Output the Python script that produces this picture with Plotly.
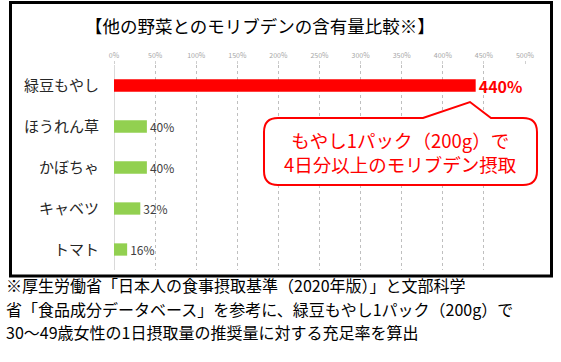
import plotly.graph_objects as go

# ---- data ----
categories = ["緑豆もやし", "ほうれん草", "かぼちゃ", "キャベツ", "トマト"]
values = [440, 40, 40, 32, 16]
bar_colors = ["#FF0000", "#92D050", "#92D050", "#92D050", "#92D050"]
x_ticks = [0, 50, 100, 150, 200, 250, 300, 350, 400, 450, 500]
x_tick_labels = [f"{t}%" for t in x_ticks]

title_text = "【他の野菜とのモリブデンの含有量比較※】"
callout_lines = ["もやし1パック（200g）で", "4日分以上のモリブデン摂取"]
footnote_lines = [
    "※厚生労働省「日本人の食事摂取基準（2020年版）」と文部科学",
    "省「食品成分データベース」を参考に、緑豆もやし1パック（200g）で",
    "30～49歳女性の1日摂取量の推奨量に対する充足率を算出",
]

FONT = "Noto Sans CJK JP"
W, H = 561, 362
PL, PR, PT, PB = 114, 525, 65, 270  # plot area in pixels


def px(x):
    return (x - PL) / (PR - PL)


def py(y):
    return (PB - y) / (PB - PT)


labels = []
label_colors = []
label_sizes = []
for i, v in enumerate(values):
    if i == 0:
        labels.append(f"<b>{v}%</b>")
        label_colors.append("#FF0000")
        label_sizes.append(16)
    else:
        labels.append(f"{v}%")
        label_colors.append("#404040")
        label_sizes.append(12)

fig = go.Figure(
    go.Bar(
        x=values,
        y=categories,
        orientation="h",
        marker=dict(color=bar_colors, line=dict(width=0)),
        text=labels,
        textposition="outside",
        constraintext="none",
        textfont=dict(color=label_colors, size=label_sizes, family=FONT),
        cliponaxis=False,
        hoverinfo="skip",
    )
)

fig.update_layout(
    width=W,
    height=H,
    margin=dict(l=PL, r=W - PR, t=PT, b=H - PB),
    paper_bgcolor="white",
    plot_bgcolor="white",
    bargap=0.70,
    showlegend=False,
    font=dict(family=FONT),
    xaxis=dict(
        range=[0, 500],
        side="top",
        tickvals=x_ticks,
        ticktext=x_tick_labels,
        tickfont=dict(size=7, color="#A6A6A6", family=FONT),
        showgrid=True,
        gridcolor="#BFBFBF",
        griddash="dot",
        gridwidth=1,
        zeroline=True,
        zerolinecolor="#D9D9D9",
        zerolinewidth=1,
        showline=False,
        ticks="outside",
        ticklen=3,
        tickcolor="#D0D0D0",
        fixedrange=True,
    ),
    yaxis=dict(
        autorange="reversed",
        tickfont=dict(size=15, color="#262626", family=FONT),
        showgrid=False,
        zeroline=False,
        showline=False,
        ticklabelstandoff=14,
        fixedrange=True,
    ),
)

shapes = []
# outer black frame
shapes.append(dict(
    type="rect", xref="paper", yref="paper",
    x0=px(10.5), x1=px(551.5), y0=py(2.5), y1=py(276),
    line=dict(color="black", width=3), fillcolor="rgba(0,0,0,0)", layer="below",
))

# callout path
bx0, bx1, by0, by1, r = 264, 537, 118, 185, 14
pts = [
    ("M", (bx0 + r, by0)),
    ("L", (423, by0)),
    ("L", (470, 102)),
    ("L", (491, by0)),
    ("L", (bx1 - r, by0)),
    ("Q", (bx1, by0), (bx1, by0 + r)),
    ("L", (bx1, by1 - r)),
    ("Q", (bx1, by1), (bx1 - r, by1)),
    ("L", (bx0 + r, by1)),
    ("Q", (bx0, by1), (bx0, by1 - r)),
    ("L", (bx0, by0 + r)),
    ("Q", (bx0, by0), (bx0 + r, by0)),
]
path = ""
for p in pts:
    cmd = p[0]
    coords = " ".join(f"{px(a):.5f},{py(b):.5f}" for a, b in p[1:])
    path += f"{cmd} {coords} "
path += "Z"
shapes.append(dict(
    type="path", xref="paper", yref="paper", path=path,
    line=dict(color="#FF0000", width=2), fillcolor="white", layer="above",
))
fig.update_layout(shapes=shapes)

annotations = []
annotations.append(dict(
    text=title_text, xref="paper", yref="paper", x=px(260), y=py(25),
    xanchor="center", yanchor="middle", showarrow=False,
    font=dict(size=17.5, color="#000000", family=FONT),
))
annotations.append(dict(
    text="<br>".join(callout_lines), xref="paper", yref="paper",
    x=px(400), y=py(152), xanchor="center", yanchor="middle", showarrow=False,
    align="center",
    font=dict(size=18.5, color="#FF0000", family=FONT),
))
for line, yy in zip(footnote_lines, [285, 308.5, 332]):
    annotations.append(dict(
        text=line, xref="paper", yref="paper", x=px(4), y=py(yy),
        xanchor="left", yanchor="middle", showarrow=False,
        font=dict(size=16, color="#000000", family=FONT),
    ))
fig.update_layout(annotations=annotations)

fig.write_html(
    "out.html",
    config={"displayModeBar": False},
    post_script="document.body.style.margin='0';document.body.style.padding='0';",
)
